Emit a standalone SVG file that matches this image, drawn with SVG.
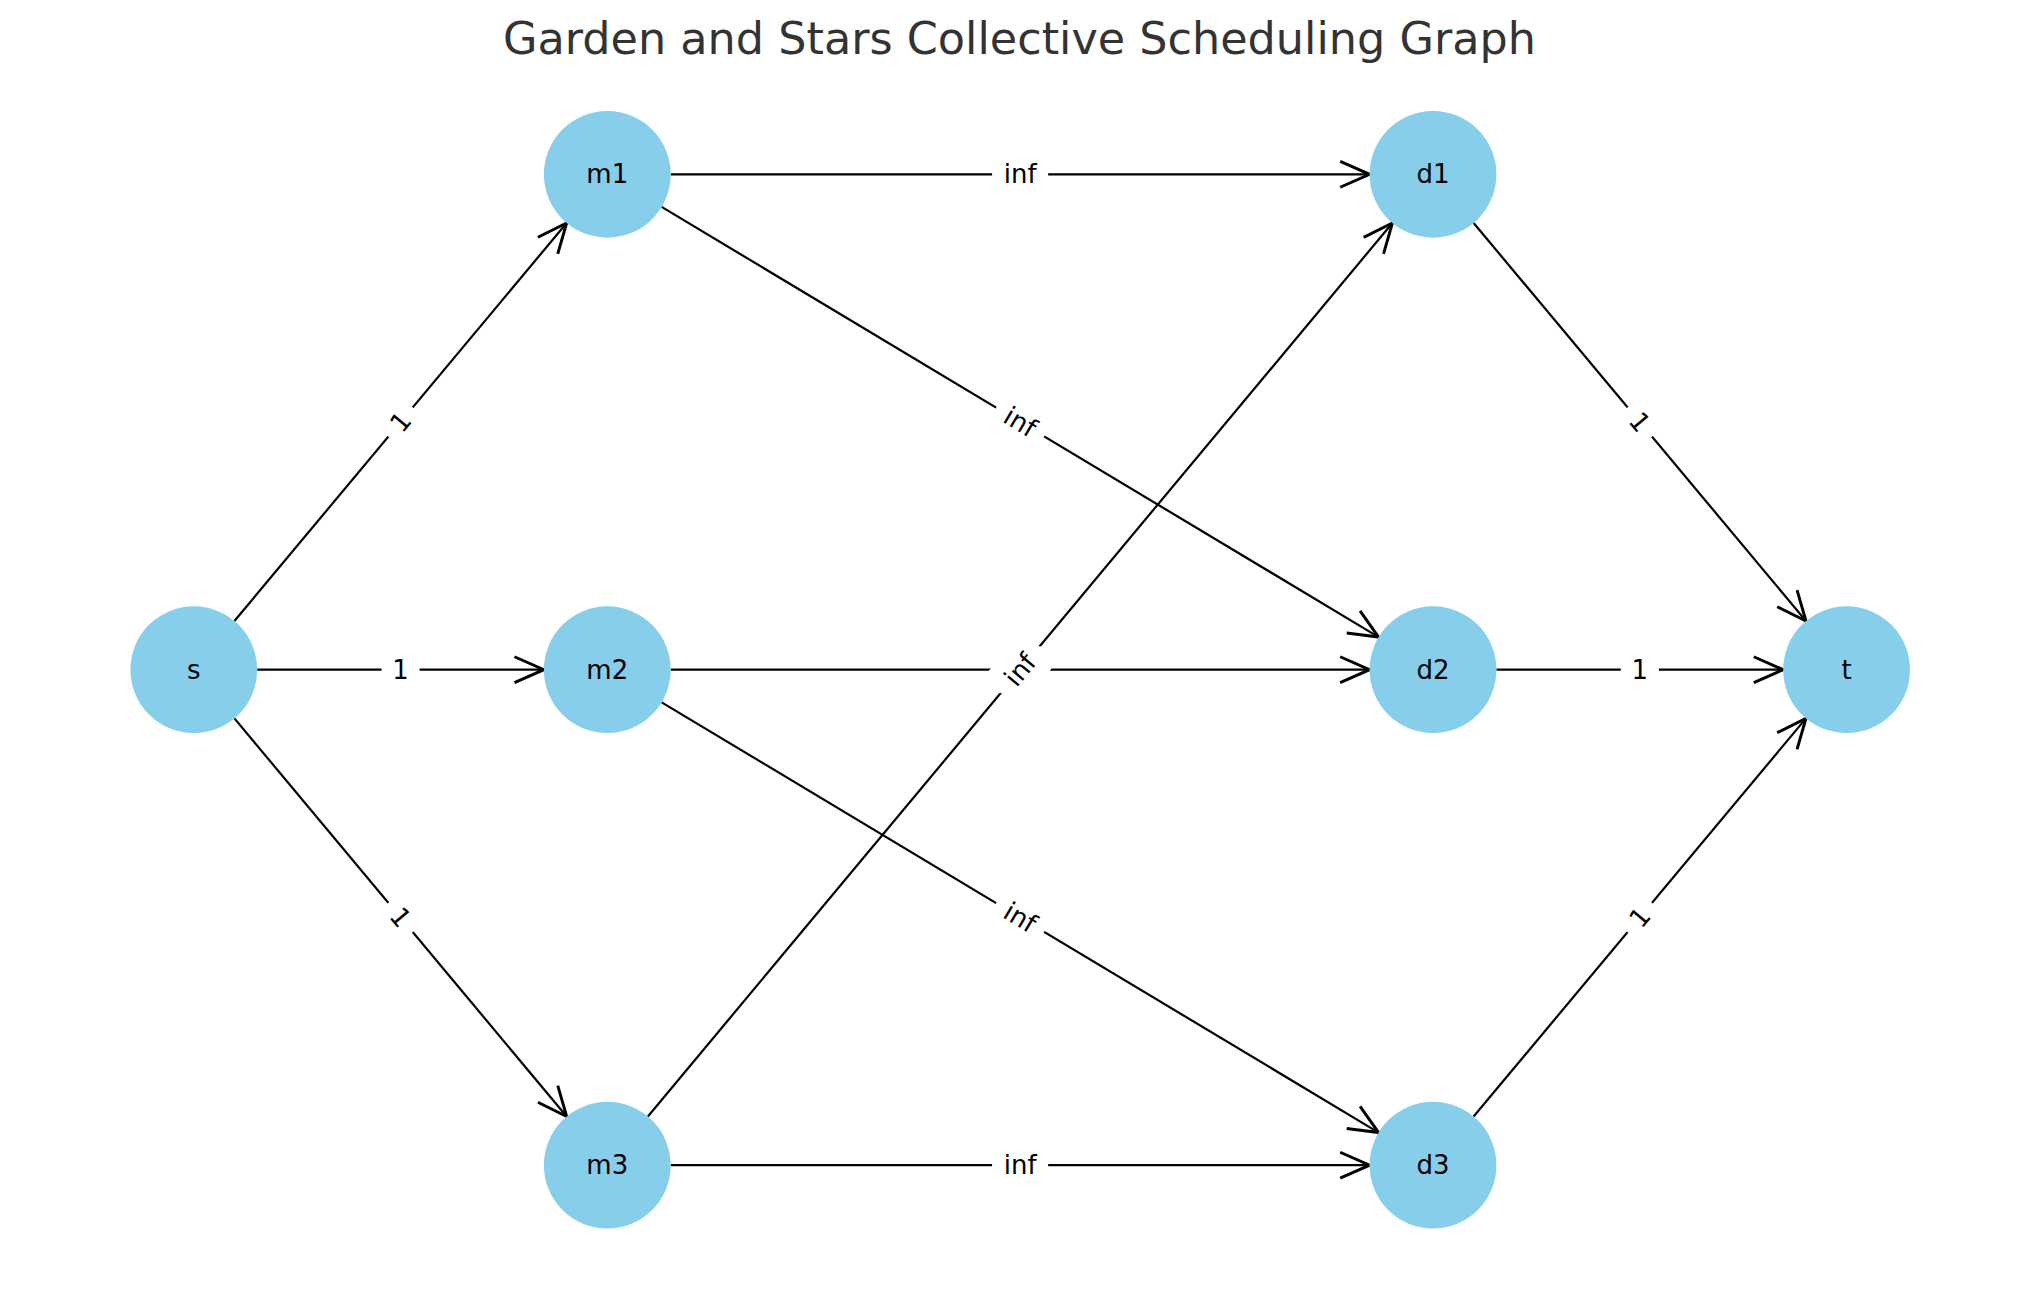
<svg xmlns="http://www.w3.org/2000/svg" width="2039" height="1290" viewBox="0 0 2039 1290">
<style>
.edge{stroke:#000;stroke-width:2.2;fill:none;marker-end:url(#arr)}
.node circle{fill:#87CEEB}
.node text,.lbl text{font-family:"DejaVu Sans","Liberation Sans",sans-serif;font-size:26px;fill:#000;text-anchor:middle}
.lbl rect{fill:#fff;stroke:#fff;stroke-width:1}
.title{font-family:"DejaVu Sans","Liberation Sans",sans-serif;font-size:44.5px;fill:#333333;text-anchor:middle}
</style>
<defs>
<marker id="arr" markerUnits="userSpaceOnUse" markerWidth="40" markerHeight="40" viewBox="-30 -15 34 30" refX="0" refY="0" orient="auto">
<path d="M-25,-11 L0,0 L-25,11" fill="none" stroke="#000" stroke-width="2.5"/>
</marker>
</defs>
<rect width="2039" height="1290" fill="#fff"/>
<text class="title" x="1019.5" y="54">Garden and Stars Collective Scheduling Graph</text>
<g id="connectors">
<line class="edge" x1="234.42" y1="621.02" x2="566.68" y2="222.98"/>
<line class="edge" x1="257.2" y1="669.7" x2="543.9" y2="669.7"/>
<line class="edge" x1="234.42" y1="718.38" x2="566.68" y2="1116.52"/>
<line class="edge" x1="670.7" y1="174.3" x2="1369.6" y2="174.3"/>
<line class="edge" x1="661.67" y1="206.92" x2="1378.63" y2="637.08"/>
<line class="edge" x1="670.7" y1="669.7" x2="1369.6" y2="669.7"/>
<line class="edge" x1="661.67" y1="702.32" x2="1378.63" y2="1132.58"/>
<line class="edge" x1="647.89" y1="1116.49" x2="1392.41" y2="223.01"/>
<line class="edge" x1="670.7" y1="1165.2" x2="1369.6" y2="1165.2"/>
<line class="edge" x1="1473.62" y1="222.98" x2="1805.98" y2="621.02"/>
<line class="edge" x1="1496.4" y1="669.7" x2="1783.2" y2="669.7"/>
<line class="edge" x1="1473.62" y1="1116.52" x2="1805.98" y2="718.38"/>
<g class="lbl" transform="translate(400.55,422) rotate(-50.15)"><rect x="-18.5" y="-23" width="37" height="46" rx="8"/><text y="9">1</text></g>
<g class="lbl" transform="translate(400.55,669.7)"><rect x="-18.5" y="-23" width="37" height="46" rx="8"/><text y="9">1</text></g>
<g class="lbl" transform="translate(400.55,917.45) rotate(50.15)"><rect x="-18.5" y="-23" width="37" height="46" rx="8"/><text y="9">1</text></g>
<g class="lbl" transform="translate(1020.15,174.3)"><rect x="-27.5" y="-23" width="55" height="46" rx="8"/><text y="9">inf</text></g>
<g class="lbl" transform="translate(1020.15,422) rotate(30.96)"><rect x="-27.5" y="-23" width="55" height="46" rx="8"/><text y="9">inf</text></g>
<g class="lbl" transform="translate(1020.15,669.7)"><rect x="-27.5" y="-23" width="55" height="46" rx="8"/><text y="9">inf</text></g>
<g class="lbl" transform="translate(1020.15,917.45) rotate(30.96)"><rect x="-27.5" y="-23" width="55" height="46" rx="8"/><text y="9">inf</text></g>
<g class="lbl" transform="translate(1020.15,669.75) rotate(-50.19)"><rect x="-27.5" y="-23" width="55" height="46" rx="8"/><text y="9">inf</text></g>
<g class="lbl" transform="translate(1020.15,1165.2)"><rect x="-27.5" y="-23" width="55" height="46" rx="8"/><text y="9">inf</text></g>
<g class="lbl" transform="translate(1639.8,422) rotate(50.15)"><rect x="-18.5" y="-23" width="37" height="46" rx="8"/><text y="9">1</text></g>
<g class="lbl" transform="translate(1639.8,669.7)"><rect x="-18.5" y="-23" width="37" height="46" rx="8"/><text y="9">1</text></g>
<g class="lbl" transform="translate(1639.8,917.45) rotate(-50.15)"><rect x="-18.5" y="-23" width="37" height="46" rx="8"/><text y="9">1</text></g>
</g>
<g id="node-s" class="node"><circle cx="193.8" cy="669.7" r="63.4"/><text x="193.8" y="678.7">s</text></g>
<g id="node-m1" class="node"><circle cx="607.3" cy="174.3" r="63.4"/><text x="607.3" y="183.3">m1</text></g>
<g id="node-m2" class="node"><circle cx="607.3" cy="669.7" r="63.4"/><text x="607.3" y="678.7">m2</text></g>
<g id="node-m3" class="node"><circle cx="607.3" cy="1165.2" r="63.4"/><text x="607.3" y="1174.2">m3</text></g>
<g id="node-d1" class="node"><circle cx="1433" cy="174.3" r="63.4"/><text x="1433" y="183.3">d1</text></g>
<g id="node-d2" class="node"><circle cx="1433" cy="669.7" r="63.4"/><text x="1433" y="678.7">d2</text></g>
<g id="node-d3" class="node"><circle cx="1433" cy="1165.2" r="63.4"/><text x="1433" y="1174.2">d3</text></g>
<g id="node-t" class="node"><circle cx="1846.6" cy="669.7" r="63.4"/><text x="1846.6" y="678.7">t</text></g>
</svg>
